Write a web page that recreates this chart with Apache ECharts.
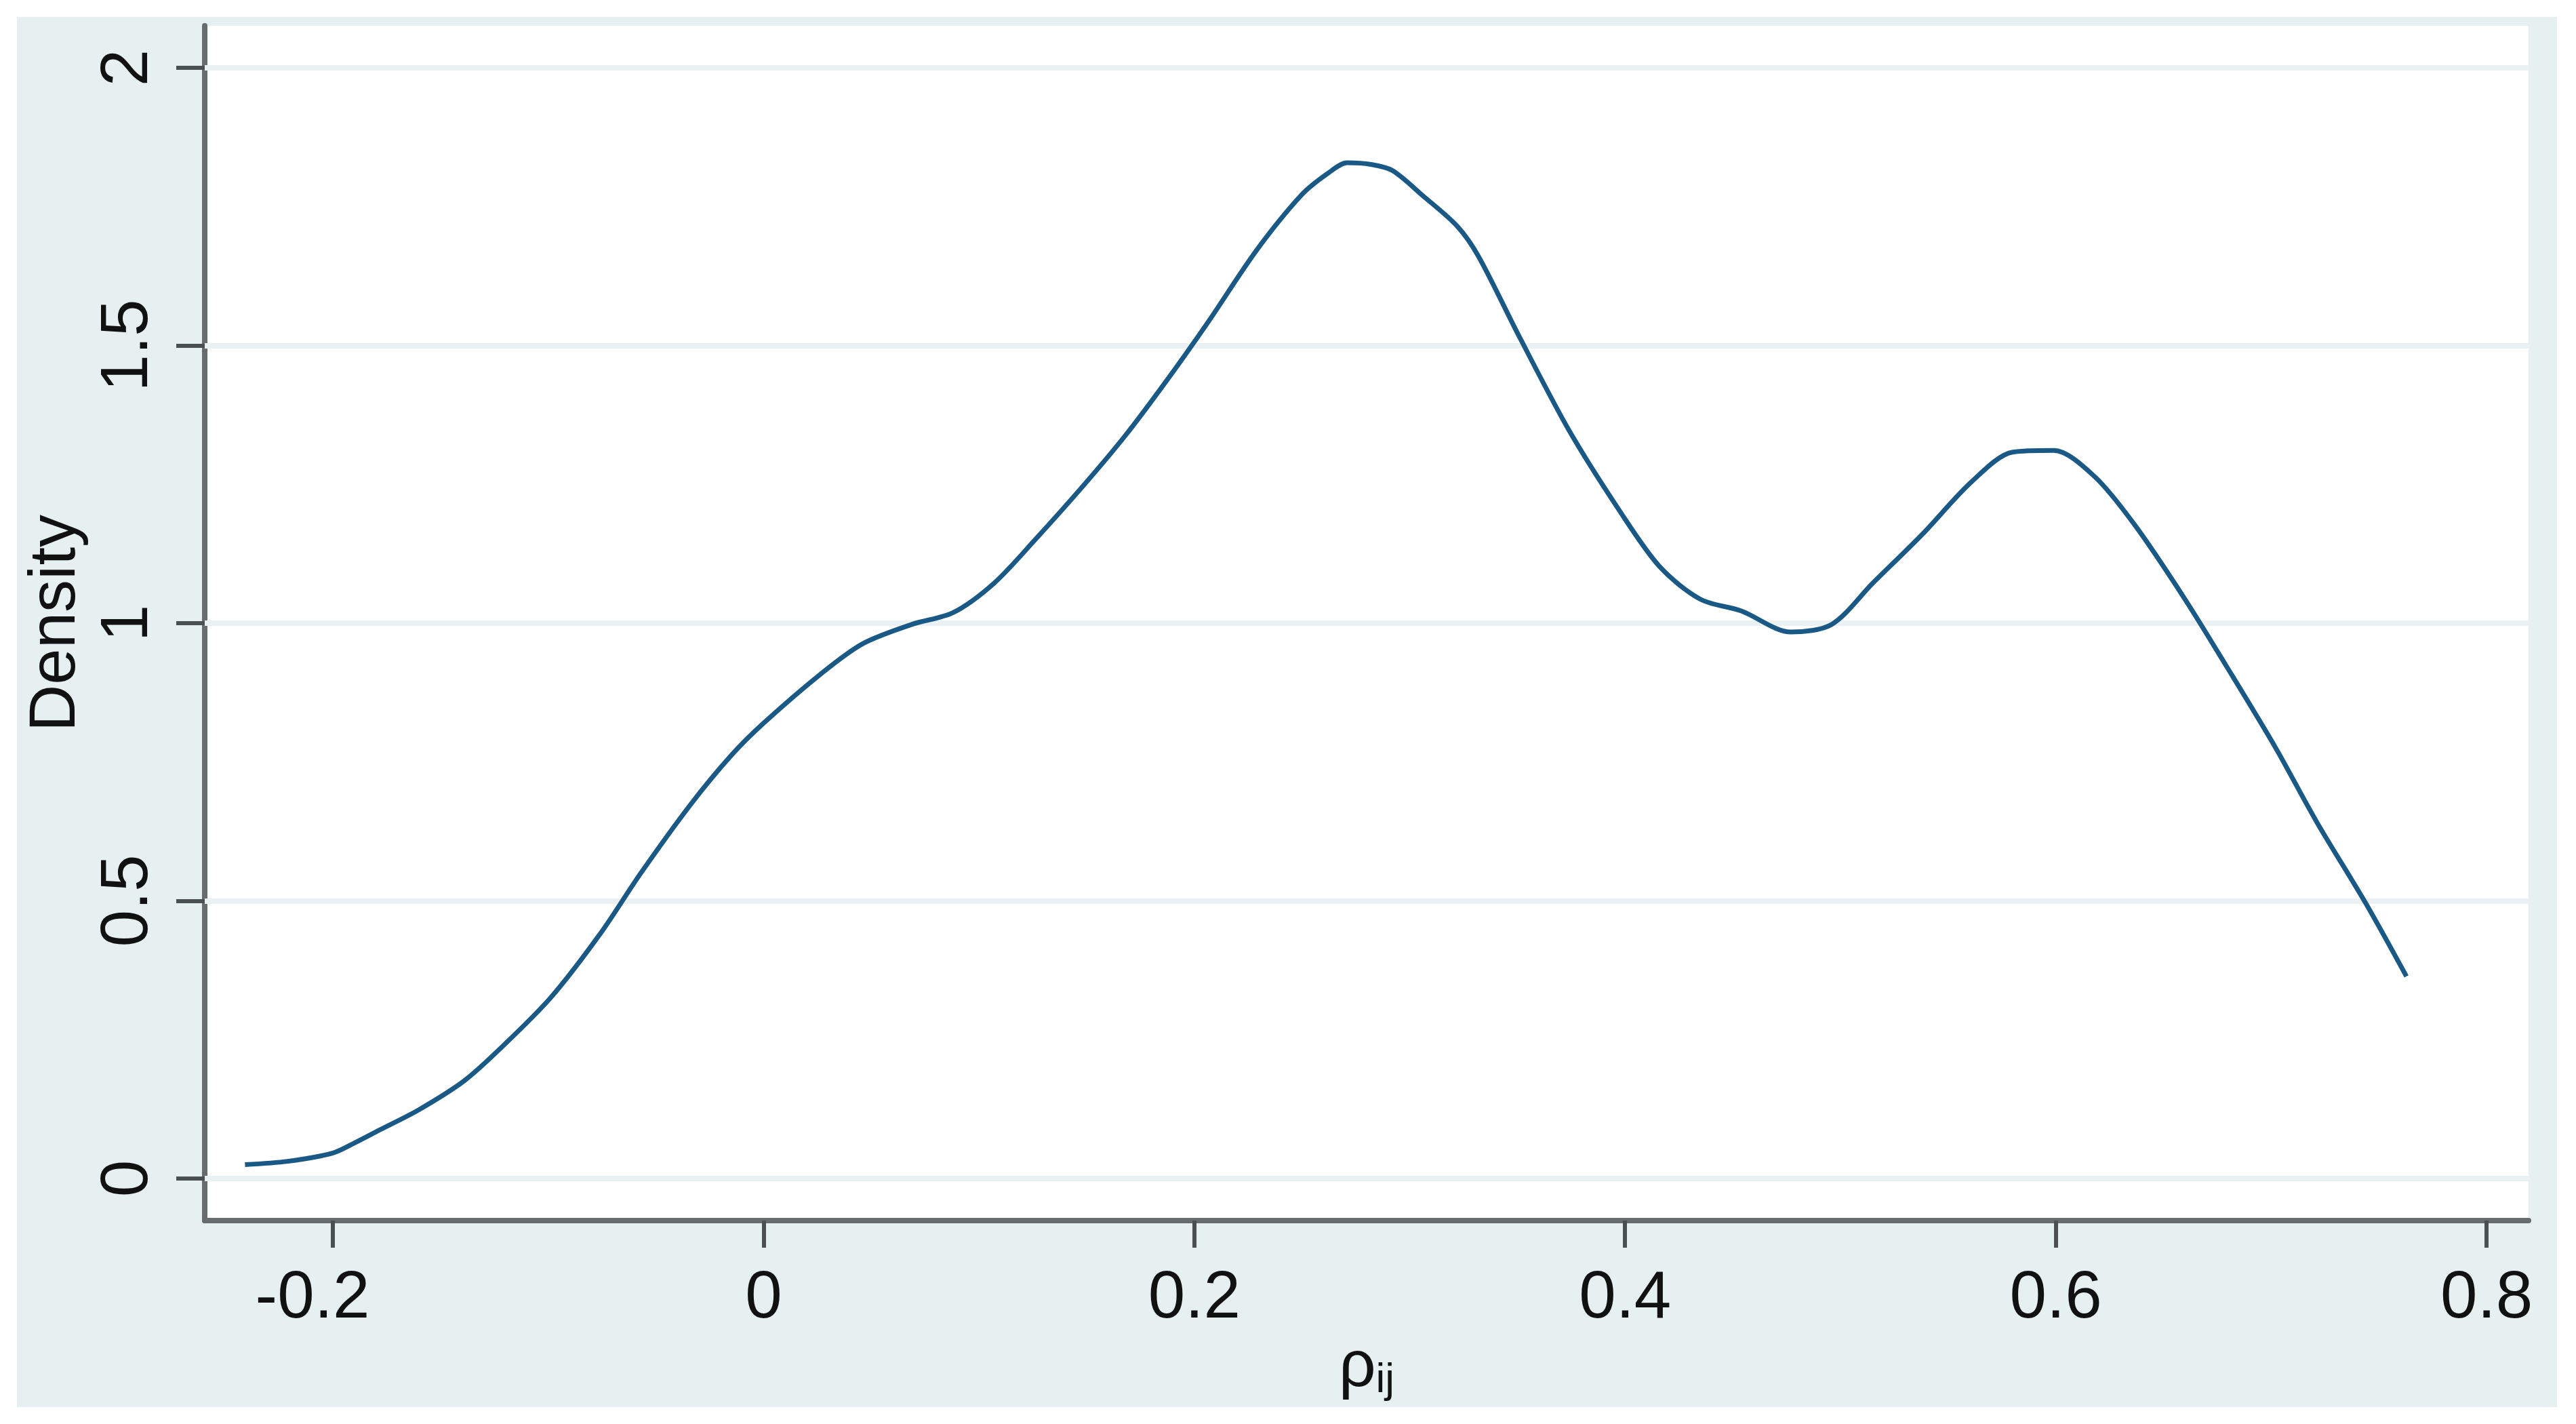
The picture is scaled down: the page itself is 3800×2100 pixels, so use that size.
<!DOCTYPE html>
<html>
<head>
<meta charset="utf-8">
<script src="https://cdn.jsdelivr.net/npm/echarts@6/dist/echarts.min.js"></script>
<style>
  html, body { margin: 0; padding: 0; background: #ffffff; }
  #chart { width: 3800px; height: 2100px; }
</style>
</head>
<body>
<div id="chart"></div>
<script>
// ---- data ----
const xTickValues = [-0.2, 0, 0.2, 0.4, 0.6, 0.8];
const yTickValues = [0, 0.5, 1, 1.5, 2];
const xAxisTitle = 'ρ';
const xAxisSub = 'ij';
const yAxisTitle = 'Density';

const rhoValues = [
  -0.2408, -0.2210, -0.200, -0.190, -0.178, -0.160, -0.139, -0.122, -0.099, -0.076, -0.057,
  -0.034, -0.015, 0.000, 0.027, 0.046, 0.069, 0.088, 0.107, 0.126, 0.149,
  0.168, 0.187, 0.206, 0.229, 0.250, 0.262, 0.271, 0.282, 0.292, 0.306,
  0.322, 0.332, 0.351, 0.374, 0.397, 0.416, 0.435, 0.454, 0.477, 0.496,
  0.515, 0.538, 0.561, 0.580, 0.599, 0.618, 0.637, 0.660, 0.679, 0.702,
  0.721, 0.744, 0.7628
];
const densityValues = [
  0.025, 0.031, 0.046, 0.064, 0.088, 0.124, 0.176, 0.235, 0.325, 0.440, 0.550,
  0.673, 0.762, 0.820, 0.910, 0.963, 0.998, 1.019, 1.072, 1.150, 1.250,
  1.338, 1.436, 1.540, 1.672, 1.772, 1.810, 1.829, 1.826, 1.815, 1.770,
  1.715, 1.660, 1.515, 1.347, 1.205, 1.102, 1.043, 1.022, 0.984, 0.998,
  1.072, 1.160, 1.255, 1.308, 1.311, 1.264, 1.175, 1.043, 0.924, 0.776,
  0.643, 0.495, 0.364
];

const FONT = 'Liberation Sans, Arial, sans-serif';
const TEXT = '#111111';

const chart = echarts.init(document.getElementById('chart'), null, { renderer: 'canvas' });
const curve = rhoValues.map((x, i) => [x, densityValues[i]]);

const option = {
  animation: false,
  backgroundColor: '#ffffff',
  graphic: [{
    type: 'rect', z: -1,
    shape: { x: 25, y: 25, width: 3747, height: 2050 },
    style: { fill: '#e6f0f1' }
  }],
  grid: {
    left: 302, right: 70, top: 38, bottom: 300,
    show: true, backgroundColor: '#ffffff', borderWidth: 0
  },
  xAxis: {
    type: 'value', min: -0.2595, max: 0.8195,
    name: '{a|' + xAxisTitle + '}{b|' + xAxisSub + '}',
    nameLocation: 'middle', nameGap: 163,
    nameTextStyle: {
      rich: {
        a: { fontSize: 96, lineHeight: 98, fontFamily: FONT, color: TEXT },
        b: { fontSize: 62, lineHeight: 40, verticalAlign: 'bottom', fontFamily: FONT, color: TEXT }
      }
    },
    axisLine: { show: true, onZero: false, lineStyle: { color: '#686c6c', width: 8 } },
    axisTick: { show: true, customValues: xTickValues, length: 40, lineStyle: { color: '#4a5050', width: 6 } },
    axisLabel: {
      customValues: xTickValues, margin: 67, fontSize: 98, lineHeight: 98, fontFamily: FONT, color: TEXT,
      formatter: v => (v < 0 ? '{neg|' + String(v) + '}' : String(v)),
      rich: { neg: { fontSize: 98, lineHeight: 98, fontFamily: FONT, color: TEXT, padding: [0, 60, 0, 0] } }
    },
    splitLine: { show: false }
  },
  yAxis: {
    type: 'value', min: -0.0757, max: 2.0757,
    name: yAxisTitle, nameLocation: 'middle', nameGap: 170,
    nameTextStyle: { fontSize: 96, lineHeight: 96, fontFamily: FONT, color: TEXT },
    axisLine: { show: true, onZero: false, lineStyle: { color: '#686c6c', width: 8 } },
    axisTick: { show: true, customValues: yTickValues, length: 42, lineStyle: { color: '#4a5050', width: 6 } },
    axisLabel: { customValues: yTickValues, rotate: 90, margin: 63, fontSize: 98, lineHeight: 98, fontFamily: FONT, color: TEXT },
    splitLine: { show: false }
  },
  series: [{
    type: 'line',
    z: 3,
    data: curve,
    smooth: 0.3,
    showSymbol: false,
    symbol: 'none',
    lineStyle: { color: '#1a5985', width: 7 },
    markLine: {
      z: 1,
      silent: true,
      symbol: ['none', 'none'],
      label: { show: false },
      lineStyle: { color: '#e9f1f3', width: 8, type: 'solid' },
      emphasis: { disabled: true },
      data: yTickValues.map(v => ({ yAxis: v }))
    }
  }]
};
chart.setOption(option);
</script>
</body>
</html>
